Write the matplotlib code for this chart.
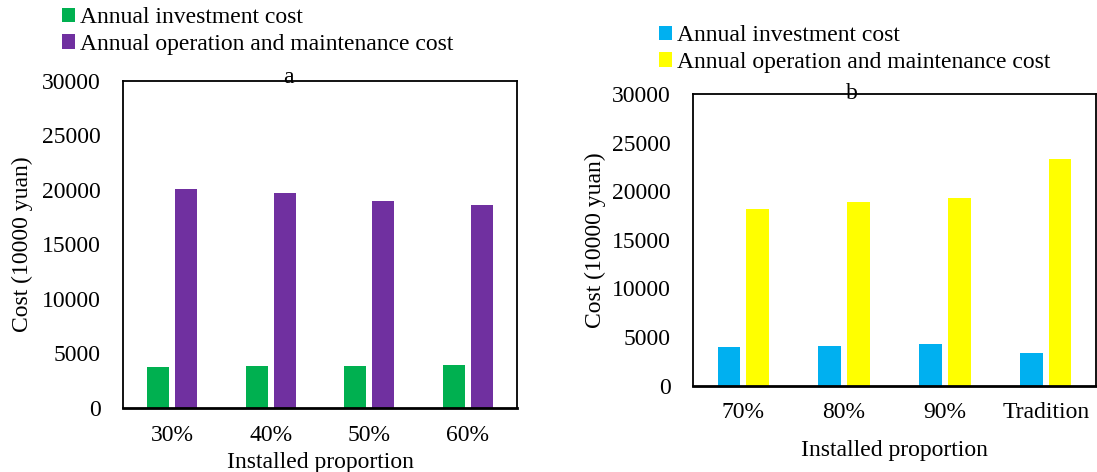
import matplotlib
matplotlib.use("Agg")
import matplotlib.pyplot as plt
import numpy as np

plt.rcParams["font.family"] = ["Liberation Serif", "DejaVu Serif"]

# Panel a: installed proportions 30%-60%
cats_a = ["30%", "40%", "50%", "60%"]
invest_a = [3730, 3830, 3850, 3920]
om_a = [20130, 19730, 19030, 18600]

# Panel b: installed proportions 70%-90% and the traditional scheme
cats_b = ["70%", "80%", "90%", "Tradition"]
invest_b = [4010, 4080, 4290, 3330]
om_b = [18170, 18890, 19270, 23310]

yticks = [0, 5000, 10000, 15000, 20000, 25000, 30000]

FS = 17
W = 0.225
OFF = 0.142

fig = plt.figure(figsize=(10.97, 4.72), dpi=100)
ax_a = fig.add_axes([0.1121, 0.1356, 0.3592, 0.6928])
ax_b = fig.add_axes([0.6317, 0.1828, 0.3674, 0.618])


def draw_panel(ax, cats, inv, om, c_inv, c_om, tag, tag_xy, xlab_y, ylab_x):
    x = np.arange(len(cats))
    b1 = ax.bar(x - OFF, inv, W, color=c_inv, label="Annual investment cost")
    b2 = ax.bar(x + OFF, om, W, color=c_om,
                label="Annual operation and maintenance cost")
    ax.set_xlim(-0.5, len(cats) - 0.5)
    ax.set_ylim(0, 30000)
    ax.set_yticks(yticks)
    ax.set_yticklabels([str(v) for v in yticks])
    ax.set_xticks(x)
    ax.set_xticklabels(cats)
    ax.tick_params(axis="both", length=0, labelsize=FS)
    ax.tick_params(axis="x", pad=12)
    ax.tick_params(axis="y", pad=16)
    for s in ax.spines.values():
        s.set_color("black")
        s.set_linewidth(1.3)
    ax.spines["bottom"].set_linewidth(2.0)
    ax.set_ylabel("Cost (10000 yuan)", fontsize=FS)
    ax.yaxis.set_label_coords(ylab_x, 0.5)
    ax.set_xlabel("Installed proportion", fontsize=FS, va="center")
    ax.xaxis.set_label_coords(0.5, xlab_y)
    ax.text(tag_xy[0], tag_xy[1], tag, transform=ax.transAxes, ha="center",
            va="center", fontsize=FS)
    return b1, b2


ha = draw_panel(ax_a, cats_a, invest_a, om_a, "#00b050", "#7030a0", "a",
                (0.419, 1.012), -0.168, -0.228)
hb = draw_panel(ax_b, cats_b, invest_b, om_b, "#00b0f0", "#ffff00", "b",
                (0.395, 1.003), -0.223, -0.216)

leg_kw = dict(frameon=False, fontsize=FS, handlelength=0.55, handleheight=0.55,
              handletextpad=0.22, labelspacing=0.25, borderpad=0,
              borderaxespad=0)
fig.legend(handles=list(ha), loc="upper left",
           bbox_to_anchor=(62 / 1097, 1 - 7 / 472), **leg_kw)
fig.legend(handles=list(hb), loc="upper left",
           bbox_to_anchor=(659 / 1097, 1 - 25 / 472), **leg_kw)

fig.savefig("out.png", dpi=100)
